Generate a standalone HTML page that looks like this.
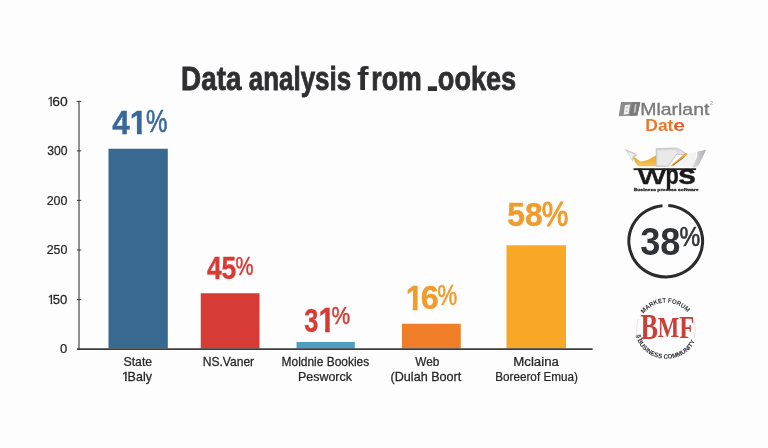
<!DOCTYPE html>
<html lang="en">
<head>
<meta charset="utf-8">
<title>Data analysis from .ookes</title>
<style>
html,body{margin:0;padding:0;background:#fdfdfd;}
body{width:768px;height:448px;overflow:hidden;position:relative;font-family:"Liberation Sans",sans-serif;}
svg{position:absolute;left:0;top:0;display:block;}
text{font-family:"Liberation Sans",sans-serif;}
</style>
</head>
<body>
<svg width="768" height="448" viewBox="0 0 768 448">
<rect x="0" y="0" width="768" height="448" fill="#fdfdfd"/>
<defs>
<clipPath id="clipOne"><rect x="-20" y="-120" width="160" height="105.5"/><rect x="22.5" y="-15" width="15.4" height="18.5"/></clipPath>
<clipPath id="clipOneR"><rect x="-20" y="-120" width="160" height="104"/><rect x="23.5" y="-16.5" width="12" height="19"/></clipPath>
</defs>

<g>
<text transform="translate(181.12 90.30) scale(0.8426 1)" font-size="33.00" font-weight="bold" fill="#2f2f32" stroke="#2f2f32" stroke-width="0.8">Data</text>
<text transform="translate(248.72 90.30) scale(0.7870 1)" font-size="33.00" font-weight="bold" fill="#2f2f32" stroke="#2f2f32" stroke-width="0.8">analysis</text>
<text transform="translate(356.89 90.30) scale(1.0499 1)" font-size="33.00" font-weight="bold" fill="#2f2f32">f</text><text transform="translate(371.26 90.30) scale(0.8098 1)" font-size="33.00" font-weight="bold" fill="#2f2f32" stroke="#2f2f32" stroke-width="0.8">rom</text>
<text transform="translate(423.44 90.50) scale(2.0175 1)" font-size="32.00" font-weight="bold" fill="#2f2f32">.</text><text transform="translate(437.82 90.30) scale(0.8217 1)" font-size="33.00" font-weight="bold" fill="#2f2f32" stroke="#2f2f32" stroke-width="0.8">ookes</text>
</g>
<g>
<rect x="108.5" y="148.75" width="59.3" height="199.6" fill="#376991"/>
<rect x="200.75" y="293.25" width="58.75" height="55.1" fill="#d83a35"/>
<rect x="296.5" y="342" width="58.3" height="6.4" fill="#4c9fbf"/>
<rect x="402" y="323.75" width="58.75" height="24.6" fill="#f07d28"/>
<rect x="506.5" y="245.3" width="59.5" height="103.1" fill="#f8a727"/>
</g>
<g fill="none">
<line x1="79" y1="101" x2="79" y2="349.5" stroke="#626262" stroke-width="1.4"/>
<line x1="77" y1="349.05" x2="592.6" y2="349.05" stroke="#3e3e3e" stroke-width="1.7"/>
<g stroke="#3a3a3a" stroke-width="1">
<line x1="76.6" y1="101.4" x2="81.2" y2="101.4"/>
<line x1="77" y1="150.9" x2="81.2" y2="150.9"/>
<line x1="77" y1="200.4" x2="81.2" y2="200.4"/>
<line x1="77" y1="250" x2="81.2" y2="250"/>
<line x1="77" y1="299.6" x2="81.2" y2="299.6"/>
</g>
</g>
<g>
<g><g transform="translate(47.42 106.25) scale(0.1231 0.1352)" clip-path="url(#clipOneR)"><text x="0" y="0" font-size="100" fill="#262626" stroke="#262626" stroke-width="1.85">1</text></g><text transform="translate(52.21 106.22) scale(1.0343 1)" font-size="13.43" fill="#262626" stroke="#262626" stroke-width="0.25">60</text></g>
<text transform="translate(47.14 155.42) scale(0.9072 1)" font-size="13.43" fill="#262626" stroke="#262626" stroke-width="0.25">300</text>
<text transform="translate(46.68 205.12) scale(0.9286 1)" font-size="13.43" fill="#262626" stroke="#262626" stroke-width="0.25">200</text>
<text transform="translate(46.68 254.42) scale(0.9286 1)" font-size="13.43" fill="#262626" stroke="#262626" stroke-width="0.25">250</text>
<g><g transform="translate(47.82 304.25) scale(0.1231 0.1352)" clip-path="url(#clipOneR)"><text x="0" y="0" font-size="100" fill="#262626" stroke="#262626" stroke-width="1.85">1</text></g><text transform="translate(52.77 304.22) scale(0.9810 1)" font-size="13.43" fill="#262626" stroke="#262626" stroke-width="0.25">50</text></g>
<text transform="translate(60.08 352.92) scale(0.9670 1)" font-size="13.43" fill="#262626" stroke="#262626" stroke-width="0.25">0</text>
</g>
<g>
<g><text transform="translate(112.23 134.00) scale(0.9346 1)" font-size="33.60" font-weight="bold" fill="#38689a" stroke="#38689a" stroke-width="0.4">4</text><g transform="translate(129.85 134.00) scale(0.3143 0.3358)" clip-path="url(#clipOne)"><text x="0" y="0" font-size="100" font-weight="bold" fill="#38689a" stroke="#38689a" stroke-width="1.19">1</text></g><text transform="translate(146.05 131.64) scale(0.7718 1)" font-size="31.29" fill="#38689a" stroke="#38689a" stroke-width="0.6">%</text></g>
<g><text transform="translate(206.90 279.38) scale(0.8390 1)" font-size="31.54" font-weight="bold" fill="#d93a34" stroke="#d93a34" stroke-width="0.4">45</text><text transform="translate(235.59 275.07) scale(0.8006 1)" font-size="25.29" fill="#d93a34" stroke="#d93a34" stroke-width="0.5">%</text></g>
<g><text transform="translate(304.33 331.78) scale(0.7619 1)" font-size="33.24" font-weight="bold" fill="#d93a34" stroke="#d93a34" stroke-width="0.4">3</text><g transform="translate(318.46 332.20) scale(0.2978 0.3430)" clip-path="url(#clipOne)"><text x="0" y="0" font-size="100" font-weight="bold" fill="#d93a34" stroke="#d93a34" stroke-width="1.17">1</text></g><text transform="translate(331.57 324.48) scale(0.8792 1)" font-size="23.86" fill="#d93a34" stroke="#d93a34" stroke-width="0.5">%</text></g>
<g><g transform="translate(405.65 309.70) scale(0.3143 0.3488)" clip-path="url(#clipOne)"><text x="0" y="0" font-size="100" font-weight="bold" fill="#f09c2c" stroke="#f09c2c" stroke-width="1.15">1</text></g><text transform="translate(420.68 309.36) scale(0.9592 1)" font-size="33.92" font-weight="bold" fill="#f09c2c" stroke="#f09c2c" stroke-width="0.4">6</text><text transform="translate(437.62 304.56) scale(0.7653 1)" font-size="29.00" fill="#f09c2c" stroke="#f09c2c" stroke-width="0.6">%</text></g>
<g><text transform="translate(507.25 225.86) scale(0.9338 1)" font-size="34.06" font-weight="bold" fill="#f09c2c" stroke="#f09c2c" stroke-width="0.4">58</text><text transform="translate(541.75 226.22) scale(0.8400 1)" font-size="35.71" fill="#f09c2c" stroke="#f09c2c" stroke-width="1.0">%</text></g>
</g>
<g>
<text transform="translate(123.45 366.45) scale(0.9939 1)" font-size="12.40" fill="#262626" stroke="#262626" stroke-width="0.25">State</text>
<g><g transform="translate(121.66 380.90) scale(0.1395 0.1240)" clip-path="url(#clipOneR)"><text x="0" y="0" font-size="100" fill="#262626" stroke="#262626" stroke-width="2.02">1</text></g><text transform="translate(127.57 380.90) scale(1.0102 1)" font-size="12.40" fill="#262626" stroke="#262626" stroke-width="0.25">Baly</text></g>
<text transform="translate(202.75 366.45) scale(0.9736 1)" font-size="12.40" fill="#262626" stroke="#262626" stroke-width="0.25">NS.Vaner</text>
<text transform="translate(281.61 366.45) scale(0.9639 1)" font-size="12.40" fill="#262626" stroke="#262626" stroke-width="0.25">Moldnie Bookies</text>
<text transform="translate(297.97 380.90) scale(1.0051 1)" font-size="12.40" fill="#262626" stroke="#262626" stroke-width="0.25">Pesworck</text>
<text transform="translate(415.34 366.45) scale(0.9511 1)" font-size="12.40" fill="#262626" stroke="#262626" stroke-width="0.25">Web</text>
<text transform="translate(390.51 380.90) scale(1.0185 1)" font-size="12.40" fill="#262626" stroke="#262626" stroke-width="0.25">(Dulah Boort</text>
<text transform="translate(513.20 366.45) scale(1.0713 1)" font-size="12.40" fill="#262626" stroke="#262626" stroke-width="0.25">Mclaina</text>
<text transform="translate(495.23 380.90) scale(0.9458 1)" font-size="12.40" fill="#262626" stroke="#262626" stroke-width="0.25">Boreerof Emua)</text>
</g>
<g>
<polygon points="621,101.9 640.3,101.9 637.4,115.6 618.7,116.3" fill="#8d8d8d"/>
<polygon points="632.2,101.9 640.3,101.9 637.4,115.6 629.5,115.9" fill="#7a7a7a"/>
<polygon points="625,105.2 630,104.6 628.6,114 623.6,114.7" fill="#f1f1f1"/>
<polygon points="634.9,104.2 636.6,104 635.4,112.6 633.7,112.9" fill="#c9c9c9"/>
<path d="M626.2,108 L628,107.6 M625.8,111.4 L627.4,111.1" stroke="#8a8a8a" stroke-width="0.7" fill="none"/>
<text transform="translate(640.19 115.30) scale(1.1587 1)" font-size="16.80" fill="#7a7a7a" stroke="#7a7a7a" stroke-width="0.35">Mlarlant</text>
<text transform="translate(710.02 107.00) scale(1.2013 1)" font-size="7.62" fill="#9a9a9a">²</text>
<text transform="translate(645.32 131.40) scale(1.0029 1)" font-size="17.40" font-weight="bold" fill="#ea7a2a">Dat</text><text transform="translate(673.35 131.40) scale(1.2149 1)" font-size="17.40" font-weight="bold" fill="#e5602b">e</text>
</g>
<g>
<defs>
<linearGradient id="gOr" x1="0" y1="0" x2="0" y2="1"><stop offset="0" stop-color="#f0a01c"/><stop offset="1" stop-color="#f8c45e"/></linearGradient>
<linearGradient id="gPa" x1="0" y1="0" x2="1" y2="1"><stop offset="0" stop-color="#cfcfcf"/><stop offset="1" stop-color="#eeeeee"/></linearGradient>
<linearGradient id="gRc" x1="0" y1="0" x2="1" y2="0"><stop offset="0" stop-color="#dddddd"/><stop offset="0.5" stop-color="#c4c4c4"/><stop offset="1" stop-color="#a9a9a9"/></linearGradient>
</defs>
<path d="M625.4,149.5 L635.1,153.5 L636.9,155.3 L633.9,157.7 L632.7,161.3 L629.7,155.3 Z" fill="#cdcdcd" stroke="#bdbdbd" stroke-width="0.5"/>
<path d="M627.5,151.2 L634.5,154.2 L632.5,157 L631.5,159 Z" fill="#ededed"/>
<path d="M633.3,157.1 L636.3,158.3 C638,160 639,161.2 641,161.4 C646,161.6 651,158.5 656.2,155.3 L656.2,166.3 L638.1,166.3 L635.1,162.5 Z" fill="url(#gOr)"/>
<path d="M656.2,148.6 L676.7,148 L680.3,149.8 L685.7,153.5 L682.7,154.7 L676.7,154.1 L668.3,166.3 L656.2,166.3 Z" fill="url(#gPa)" stroke="#bcbcbc" stroke-width="0.7"/>
<path d="M657.5,150.5 L675.5,150 L677,153 L667,165 L657.5,165 Z" fill="#e9e9e9"/>
<path d="M683.5,155 L697.2,151.7 L693,166.5 L669.5,166.5 Z" fill="#f3f3f3"/>
<path d="M697.2,151.7 L706.2,149.8 L698.4,165.5 L693.6,167.9 L692.4,166.7 L697.2,156.5 Z" fill="url(#gRc)"/>
<path d="M685.7,152.7 L687.8,154.1 L673.1,166.3 L670.5,165.7 Z" fill="#f0a52a"/>
<path d="M684.5,157 L673.6,164.6" stroke="#555" stroke-width="0.6" fill="none"/>
<rect x="633.5" y="168.3" width="62.6" height="1.8" fill="#1d1d1f"/>
<text transform="translate(637.90 184.20) scale(1.4361 1)" font-size="26.80" fill="#1b1b1d" stroke="#1b1b1d" stroke-width="0.55">w</text><text transform="translate(665.58 184.20) scale(0.8128 1)" font-size="26.80" font-weight="bold" fill="#1b1b1d" stroke="#1b1b1d" stroke-width="0.4">p</text><text transform="translate(678.06 184.20) scale(1.2127 1)" font-size="26.80" font-weight="bold" fill="#1b1b1d" stroke="#1b1b1d" stroke-width="0.4">s</text>
<text transform="translate(633.66 190.88) scale(1.2690 1)" font-size="3.97" font-weight="bold" fill="#333" stroke="#333" stroke-width="0.3">Business process software</text>
</g>
<g>
<path d="M668.3,205.6 A36.9,35.7 0 1 1 662.5,205.65" fill="none" stroke="#2b2a2c" stroke-width="3"/>
<text transform="translate(640.19 254.51) scale(0.9184 1)" font-size="39.44" font-weight="bold" fill="#303236">38</text><text transform="translate(679.48 245.86) scale(0.8582 1)" font-size="27.14" fill="#303236" stroke="#303236" stroke-width="0.6">%</text>
</g>
<g>
<defs>
<path id="arcTop" d="M643.75,313.84 A27.5,27.5 0 0 1 687.07,312.32"/>
<path id="arcBot" d="M636.2,335 A30.5,27 0 0 0 696,338.5"/>
</defs>
<path d="M638.5,319 A29.5,29.5 0 0 0 638,338 M693.8,320 A29.5,29.5 0 0 1 694.2,338" fill="none" stroke="#efd6d4" stroke-width="0.8"/>
<text font-size="6.4" font-weight="bold" fill="#2b2b33"><textPath href="#arcTop" textLength="50" lengthAdjust="spacingAndGlyphs">MARKET FORUM</textPath></text>
<text font-size="6.4" font-weight="bold" fill="#2b2b33"><textPath href="#arcBot" textLength="77" lengthAdjust="spacingAndGlyphs">§ BUSINESS COMMUNITY</textPath></text>
<text transform="translate(640.54 338.91) scale(0.7357 1)" font-size="35.59" style='font-family:"Liberation Serif",serif;font-weight:bold' fill="#cb3f37">B</text><text transform="translate(657.80 336.80) scale(0.7919 1)" font-size="28.70" style='font-family:"Liberation Serif",serif;font-weight:bold' fill="#cb3f37">M</text><text transform="translate(679.17 337.60) scale(0.7818 1)" font-size="31.45" style='font-family:"Liberation Serif",serif;font-weight:bold' fill="#cb3f37">F</text>
</g>
</svg>
</body>
</html>
